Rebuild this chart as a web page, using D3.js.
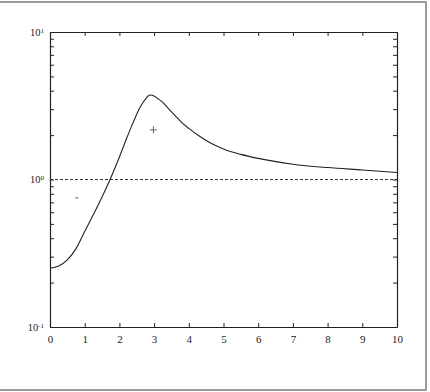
<!DOCTYPE html>
<html>
<head>
<meta charset="utf-8">
<script src="https://cdn.jsdelivr.net/npm/d3@7"></script>
<style>
  body { margin: 0; background: #fff; }
</style>
</head>
<body>
<div id="chart"></div>
<script>
const canvWidth = 430, canvHeight = 392;
const margin = {top: 32, right: 33, bottom: 65, left: 50};
const width = canvWidth - margin.left - margin.right;
const height = canvHeight - margin.top - margin.bottom;
const serif = "'Liberation Serif', 'Times New Roman', 'DejaVu Serif', serif";

// curve
const curveX = [0, 0.25, 0.5, 0.75, 1.0, 1.25, 1.5, 1.75, 2.0, 2.2, 2.4, 2.6, 2.75, 2.88, 3.0, 3.1, 3.2, 3.4, 3.6, 3.8, 4.0, 4.3, 4.6, 5.0, 5.5, 6, 7, 8, 9, 10];
const curveY = [0.25, 0.259, 0.285, 0.340, 0.444, 0.579, 0.761, 1.024, 1.42, 1.88, 2.45, 3.10, 3.51, 3.74, 3.68, 3.54, 3.41, 3.05, 2.72, 2.43, 2.22, 1.97, 1.78, 1.61, 1.48, 1.39, 1.27, 1.205, 1.16, 1.115];

// reference line
const refLevel = 1;

// single markers
const plusPoint = {x: 2.98, y: 2.17};
const dashPoint = {x: 0.77, y: 0.75};

const xTicks = [0, 1, 2, 3, 4, 5, 6, 7, 8, 9, 10];
const yMajor = [0.1, 1, 10];
const yExp = ["-1", "0", "1"];

const svg = d3.select('#chart')
    .append('svg')
    .attr('width', canvWidth)
    .attr('height', canvHeight)
    .attr('font-family', serif);

// outer frame (top, right, bottom)
svg.append('path')
    .attr('d', `M0,2 H426 V390 H0`)
    .attr('fill', 'none')
    .attr('stroke', '#9a9a9a')
    .attr('stroke-width', 2);

const g = svg.append('g')
    .attr('transform', `translate(${margin.left},${margin.top})`);

const xScale = d3.scaleLinear().domain([0, 10]).range([0, width]);
const yScale = d3.scaleLog().domain([0.1, 10]).range([height, 0]);

// log ticks 1..9 per decade
const yTicks = [];
[0.1, 1].forEach(function (dec) {
    for (let m = 1; m <= 9; m++) yTicks.push(+(m * dec).toPrecision(3));
});
yTicks.push(10);

// axes, ticks pointing inward
g.append('g')
    .attr('class', 'xb')
    .attr('transform', `translate(0,${height})`)
    .call(d3.axisBottom(xScale).tickValues(xTicks).tickSize(-4).tickPadding(8).tickSizeOuter(0));
g.append('g')
    .call(d3.axisTop(xScale).tickValues(xTicks).tickSize(-4).tickFormat('').tickSizeOuter(0));
g.append('g')
    .call(d3.axisLeft(yScale).tickValues(yTicks).tickSize(-4).tickFormat('').tickSizeOuter(0));
g.append('g')
    .attr('transform', `translate(${width},0)`)
    .call(d3.axisRight(yScale).tickValues(yTicks).tickSize(-4).tickFormat('').tickSizeOuter(0));

g.selectAll('g').attr('font-family', serif);
g.selectAll('.domain').attr('stroke', '#222').attr('stroke-width', 1.2);
g.selectAll('.tick line').attr('stroke', '#222');
g.selectAll('.xb text')
    .attr('font-size', 11)
    .attr('font-family', serif)
    .attr('fill', '#222');

// y labels 10^k
const yl = g.append('g');
yMajor.forEach(function (v, i) {
    const t = yl.append('text')
        .attr('x', -6)
        .attr('y', yScale(v))
        .attr('dy', '0.35em')
        .attr('text-anchor', 'end')
        .attr('font-family', serif)
        .attr('font-size', 10.5)
        .attr('fill', '#222');
    t.append('tspan').text('10');
    t.append('tspan')
        .attr('dy', '-0.45em')
        .attr('font-size', 7)
        .text(yExp[i]);
});

// reference dashed line
g.append('line')
    .attr('x1', xScale(0))
    .attr('x2', xScale(10))
    .attr('y1', yScale(refLevel))
    .attr('y2', yScale(refLevel))
    .attr('stroke', '#333')
    .attr('stroke-width', 1)
    .attr('stroke-dasharray', '3,2');

// curve
const line = d3.line()
    .x(function (d, i) { return xScale(curveX[i]); })
    .y(function (d) { return yScale(d); })
    .curve(d3.curveMonotoneX);
g.append('path')
    .datum(curveY)
    .attr('d', line)
    .attr('fill', 'none')
    .attr('stroke', '#222')
    .attr('stroke-width', 1.1);

// plus marker
const px = xScale(plusPoint.x), py = yScale(plusPoint.y);
g.append('path')
    .attr('d', `M${px - 3.5},${py} H${px + 3.5} M${px},${py - 3.5} V${py + 3.5}`)
    .attr('stroke', '#555')
    .attr('stroke-width', 0.9);

// small dash marker
const dx = xScale(dashPoint.x), dy = yScale(dashPoint.y);
g.append('path')
    .attr('d', `M${dx - 1.5},${dy} H${dx + 1.5}`)
    .attr('stroke', '#555')
    .attr('stroke-width', 1);
</script>
</body>
</html>
